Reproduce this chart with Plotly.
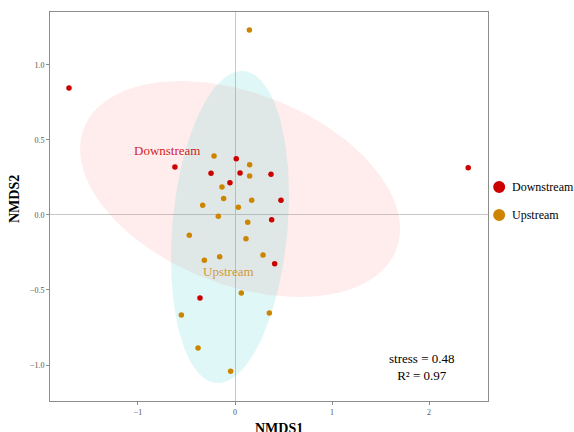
import numpy as np
import plotly.graph_objects as go

# NMDS site scores
down_x = [-1.711, -0.619, 0.013, -0.247, 0.052, -0.052, 0.371, 0.474, 0.378, 0.409, -0.361, 2.404]
down_y = [0.847, 0.320, 0.375, 0.278, 0.280, 0.215, 0.271, 0.098, -0.031, -0.325, -0.553, 0.314]

up_x = [0.148, -0.216, 0.151, 0.151, -0.134, -0.117, 0.172, -0.333, 0.034, -0.172, 0.131,
        -0.471, 0.113, 0.289, -0.316, -0.158, 0.065, -0.553, 0.354, -0.381, -0.045]
up_y = [1.233, 0.393, 0.335, 0.260, 0.187, 0.109, 0.098, 0.065, 0.051, -0.009, -0.049,
        -0.135, -0.158, -0.267, -0.302, -0.278, -0.520, -0.667, -0.653, -0.887, -1.042]

# 95% confidence ellipses per group: centre and covariance (axis units)
down_ell_center = [0.052, 0.173]
down_ell_cov = [[2.721, -0.440], [-0.440, 0.518]]
up_ell_center = [-0.052, -0.080]
up_ell_cov = [[0.370, 0.129], [0.129, 1.082]]

groups = ["Downstream", "Upstream"]
stress = 0.48
r2 = 0.97

COL_DOWN = "#CD0000"
COL_UP = "#CD8500"
FONT = "Liberation Serif"


def ellipse(center, cov, n=200):
    t = np.linspace(0, 2 * np.pi, n)
    L = np.linalg.cholesky(np.array(cov))
    pts = L @ np.vstack([np.cos(t), np.sin(t)])
    return center[0] + pts[0], center[1] + pts[1]


fig = go.Figure()

ex, ey = ellipse(down_ell_center, down_ell_cov)
fig.add_trace(go.Scatter(x=ex, y=ey, mode="lines", fill="toself",
                         fillcolor="rgba(248,118,109,0.13)", line=dict(width=0),
                         hoverinfo="skip", showlegend=False))
ex, ey = ellipse(up_ell_center, up_ell_cov)
fig.add_trace(go.Scatter(x=ex, y=ey, mode="lines", fill="toself",
                         fillcolor="rgba(0,191,196,0.12)", line=dict(width=0),
                         hoverinfo="skip", showlegend=False))

# sample points
fig.add_trace(go.Scatter(x=down_x, y=down_y, mode="markers", name=groups[0],
                         marker=dict(color=COL_DOWN, size=5.5), showlegend=False))
fig.add_trace(go.Scatter(x=up_x, y=up_y, mode="markers", name=groups[1],
                         marker=dict(color=COL_UP, size=5.5), showlegend=False))

# group labels
fig.add_annotation(x=-0.696, y=0.427, text=groups[0], showarrow=False,
                   font=dict(family=FONT, size=13, color="rgba(205,0,0,0.9)"))
fig.add_annotation(x=-0.062, y=-0.38, text=groups[1], showarrow=False,
                   font=dict(family=FONT, size=13, color="rgba(205,133,0,0.8)"))

# fit statistics
fig.add_annotation(x=1.918, y=-1.013, xanchor="center", yanchor="middle",
                   text=f"stress = {stress:.2f}<br>R² = {r2:.2f}", showarrow=False,
                   align="center", font=dict(family=FONT, size=13, color="black"))

# key to the right of the panel: filled circle + group name
key_x, key_y0, key_step = 1.0255, 0.550, 0.072
for i, (name, col) in enumerate(zip(groups, [COL_DOWN, COL_UP])):
    ky = key_y0 - i * key_step
    fig.add_shape(type="circle", xref="paper", yref="paper",
                  xsizemode="pixel", ysizemode="pixel",
                  xanchor=key_x, yanchor=ky, x0=-6, x1=6, y0=-6, y1=6,
                  fillcolor=col, line=dict(width=0))
    fig.add_annotation(xref="paper", yref="paper", x=key_x + 0.024, y=ky,
                       xanchor="left", yanchor="middle", text=name, showarrow=False,
                       font=dict(family=FONT, size=12, color="black"))

axis_common = dict(
    showgrid=False, zeroline=True, zerolinecolor="#c8c8c8", zerolinewidth=1,
    showline=True, linecolor="#8c8c8c", linewidth=1, mirror=True,
    ticks="outside", ticklen=3, tickcolor="#8c8c8c", automargin=False,
    tickfont=dict(family=FONT, size=8, color="#555555"),
)

fig.update_xaxes(range=[-1.907, 2.608], tickvals=[-1, 0, 1, 2], **axis_common)
fig.update_yaxes(range=[-1.24, 1.353], tickvals=[-1.0, -0.5, 0.0, 0.5, 1.0], tickformat=".1f",
                 **axis_common)

# axis titles
fig.add_annotation(xref="paper", yref="paper", x=0.5217, y=-0.0455, xanchor="center",
                   yanchor="top", text="<b>NMDS1</b>", showarrow=False,
                   font=dict(family=FONT, size=14, color="black"))
fig.add_annotation(xref="paper", yref="paper", x=-0.081, y=0.518, xanchor="center",
                   yanchor="middle", textangle=-90, text="<b>NMDS2</b>", showarrow=False,
                   font=dict(family=FONT, size=14, color="black"))

fig.update_layout(
    width=574, height=432,
    margin=dict(l=50, r=86, t=12, b=31, autoexpand=False),
    plot_bgcolor="white", paper_bgcolor="white",
    font=dict(family=FONT),
    showlegend=False,
)

fig.write_html("out.html")
